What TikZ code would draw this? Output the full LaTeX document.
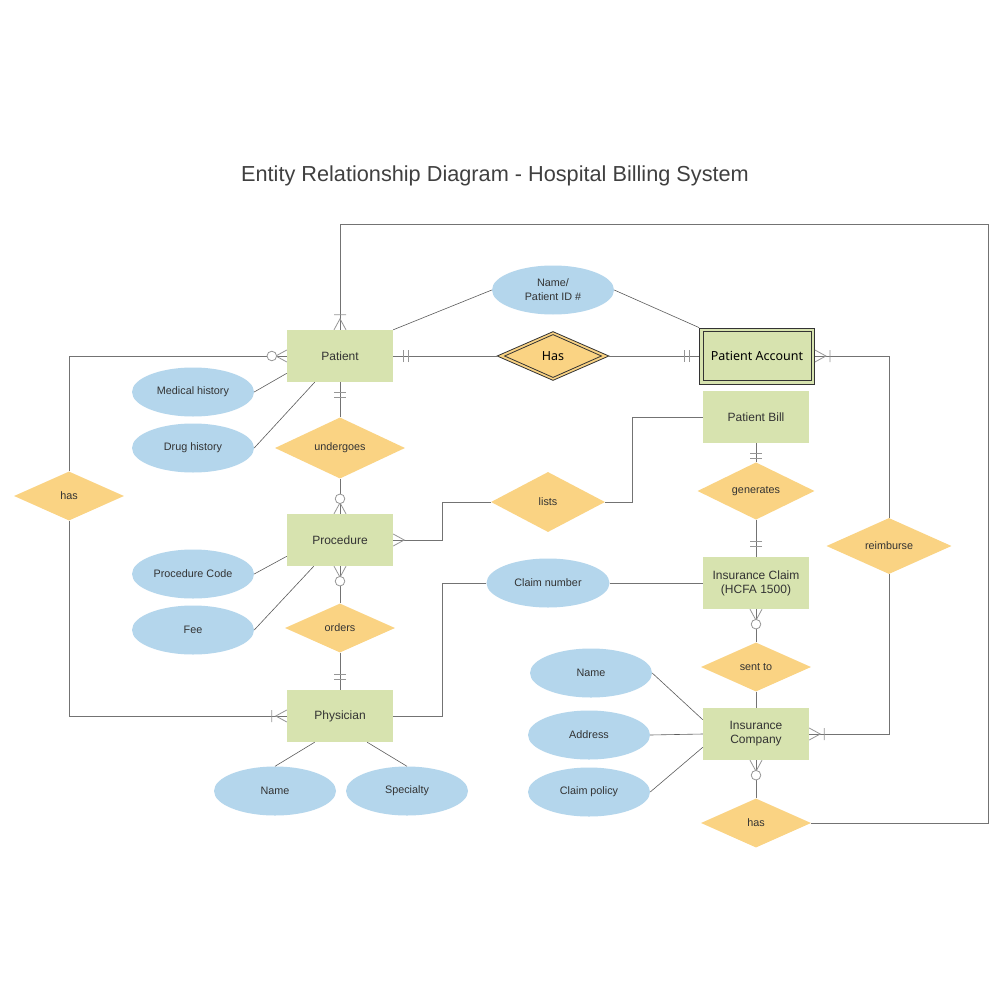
\documentclass[tikz,border=0pt]{standalone}
\usepackage{fontspec}
\setmainfont{Liberation Sans}
\newfontfamily\accfont{Noto Sans}
\usetikzlibrary{shapes.geometric, calc}

\definecolor{entgreen}{RGB}{215,227,175}
\definecolor{relorange}{RGB}{250,211,131}
\definecolor{attblue}{RGB}{180,214,236}
\definecolor{txtgray}{RGB}{51,51,51}
\definecolor{titlegray}{RGB}{64,64,64}
\definecolor{conngray}{RGB}{115,115,115}
\definecolor{tipgray}{RGB}{150,150,150}

\tikzset{
  entity/.style={fill=entgreen, minimum width=106pt, minimum height=52pt, inner sep=0pt, text=txtgray, font=\fontsize{12}{14}\selectfont, align=center},
  rel/.style={diamond, fill=relorange, inner sep=0pt, minimum width=110pt, minimum height=49pt, text=txtgray, font=\fontsize{10.8}{13}\selectfont},
  attr/.style={ellipse, fill=attblue, inner sep=0pt, minimum width=122pt, minimum height=49pt, text=txtgray, font=\fontsize{10.8}{14}\selectfont, align=center},
  conn/.style={draw=conngray, line width=0.9pt},
  attline/.style={draw=conngray!80!black, line width=0.6pt},
  erline/.style={draw=tipgray, line width=0.8pt},
  weakline/.style={draw=black!80, line width=0.8pt},
  onlyone/.pic={\draw[erline] (10,-6) -- (10,6) (15,-6) -- (15,6);},
  crowfoot/.pic={\draw[erline] (0,-6) -- (11,0) -- (0,6);},
  onemore/.pic={\draw[erline] (0,-6) -- (11,0) -- (0,6) (15,-6) -- (15,6);},
  zeromore/.pic={\draw[erline] (0,-6) -- (11,0) -- (0,6); \draw[erline, fill=white] (15,0) circle (4.8);}
}

\begin{document}
\begin{tikzpicture}[x=1pt,y=1pt,yscale=-1,xscale=1]
        \useasboundingbox (0,0) rectangle (1000,1000);
        \fill[white] (0,0) rectangle (1000,1000);

        % Text Node
        \node[font=\fontsize{21.7}{26}\selectfont, text=titlegray] (title) at (495,176) {Entity Relationship Diagram - Hospital Billing System};

        %Shape: Entities
        \node[entity] (patient) at (340,356) {Patient};
        \node[entity, weakline, minimum width=115pt, minimum height=56pt, text=black, font=\accfont\fontsize{12.5}{14}\selectfont] (pacct) at (757,356) {Patient Account};
        \draw[weakline] ($(pacct.north west)+(4,4)$) rectangle ($(pacct.south east)+(-4,-4)$);
        \node[entity] (bill) at (756,417) {Patient Bill};
        \node[entity] (procedure) at (340,540) {Procedure};
        \node[entity] (iclaim) at (756,583) {Insurance Claim\\(HCFA 1500)};
        \node[entity] (physician) at (340,716) {Physician};
        \node[entity] (icomp) at (756,734) {Insurance\\Company};

        %Shape: Relations
        \node[rel, weakline, minimum width=112pt, minimum height=49pt, text=black, font=\accfont\fontsize{12.5}{14}\selectfont] (hasacct) at (553,356) {Has};
        \draw[weakline] ($(hasacct.west)+(8,0)$) -- ($(hasacct.north)+(0,3.5)$) -- ($(hasacct.east)+(-8,0)$) -- ($(hasacct.south)+(0,-3.5)$) -- cycle;
        \node[rel, minimum width=130pt, minimum height=57pt] (undergoes) at (340,448) {undergoes};
        \node[rel] (hasl) at (69,496) {has};
        \node[rel, minimum width=114pt, minimum height=60pt] (lists) at (548,502) {lists};
        \node[rel, minimum width=117pt, minimum height=54pt] (generates) at (756,491) {generates};
        \node[rel] (orders) at (340,628) {orders};
        \node[rel, minimum width=125pt, minimum height=55pt] (reimb) at (889,546) {reimburse};
        \node[rel] (sentto) at (756,667) {sent to};
        \node[rel] (hasb) at (756,823) {has};

        %Shape: Attributes
        \node[attr] (nameid) at (553,290) {Name/\\Patient ID \#};
        \node[attr] (medhist) at (193,392) {Medical history};
        \node[attr] (drughist) at (193,448) {Drug history};
        \node[attr] (proccode) at (193,574) {Procedure Code};
        \node[attr] (fee) at (193,630) {Fee};
        \node[attr, minimum width=123pt] (claimno) at (548,583) {Claim number};
        \node[attr] (physname) at (275,791) {Name};
        \node[attr] (specialty) at (407,791) {Specialty};
        \node[attr] (compname) at (591,673) {Name};
        \node[attr] (address) at (589,735) {Address};
        \node[attr] (policy) at (589,792) {Claim policy};

        \coordinate (topright) at (988,224);

        % Relationship lines
        \draw[conn] (patient.north) |- (topright) |- (hasb.east);
        \draw[conn] (hasl.north) |- (patient.west);
        \draw[conn] (hasl.south) |- (physician.west);
        \draw[conn] (patient.east) -- (hasacct.west);
        \draw[conn] (hasacct.east) -- (pacct.west);
        \draw[conn] (patient.south) -- (undergoes.north);
        \draw[conn] (undergoes.south) -- (procedure.north);
        \draw[conn] (procedure.east) -- ++(49,0) |- (lists.west);
        \draw[conn] (lists.east) -- ++(27,0) |- (bill.west);
        \draw[conn] (bill.south) -- (generates.north);
        \draw[conn] (generates.south) -- (iclaim.north);
        \draw[conn] (iclaim.south) -- (sentto.north);
        \draw[conn] (sentto.south) -- (icomp.north);
        \draw[conn] (icomp.south) -- (hasb.north);
        \draw[conn] (claimno.east) -- (iclaim.west);
        \draw[conn] (claimno.west) -- ++(-44,0) |- (physician.east);
        \draw[conn] (procedure.south) -- (orders.north);
        \draw[conn] (orders.south) -- (physician.north);
        \draw[conn] (pacct.east) -| (reimb.north);
        \draw[conn] (reimb.south) |- (icomp.east);

        % Attribute lines
        \draw[attline] (patient.north east) -- (nameid.west);
        \draw[attline] (nameid.east) -- (pacct.north west);
        \draw[attline] (medhist.east) -- (patient.-162);
        \draw[attline] (drughist.east) -- (patient.-134);
        \draw[attline] (proccode.east) -- (procedure.-163);
        \draw[attline] (fee.east) -- (procedure.-135);
        \draw[attline] (physician.-134) -- (physname.north);
        \draw[attline] (physician.-44) -- (specialty.north);
        \draw[attline] (compname.east) -- (icomp.165);
        \draw[attline] (address.east) -- (icomp.west);
        \draw[attline] (policy.east) -- (icomp.-166);

        % Cardinality marks
        \pic[rotate=90] at (patient.north) {onemore};
        \pic[rotate=180] at (patient.west) {zeromore};
        \pic at (patient.east) {onlyone};
        \pic[rotate=-90] at (patient.south) {onlyone};
        \pic[rotate=180] at (pacct.west) {onlyone};
        \pic at (pacct.east) {onemore};
        \pic[rotate=90] at (procedure.north) {zeromore};
        \pic at (procedure.east) {crowfoot};
        \pic[rotate=-90] at (procedure.south) {zeromore};
        \pic[rotate=90] at (physician.north) {onlyone};
        \pic[rotate=180] at (physician.west) {onemore};
        \pic[rotate=-90] at (bill.south) {onlyone};
        \pic[rotate=90] at (iclaim.north) {onlyone};
        \pic[rotate=-90] at (iclaim.south) {zeromore};
        \pic at (icomp.east) {onemore};
        \pic[rotate=-90] at (icomp.south) {zeromore};

\end{tikzpicture}
\end{document}
